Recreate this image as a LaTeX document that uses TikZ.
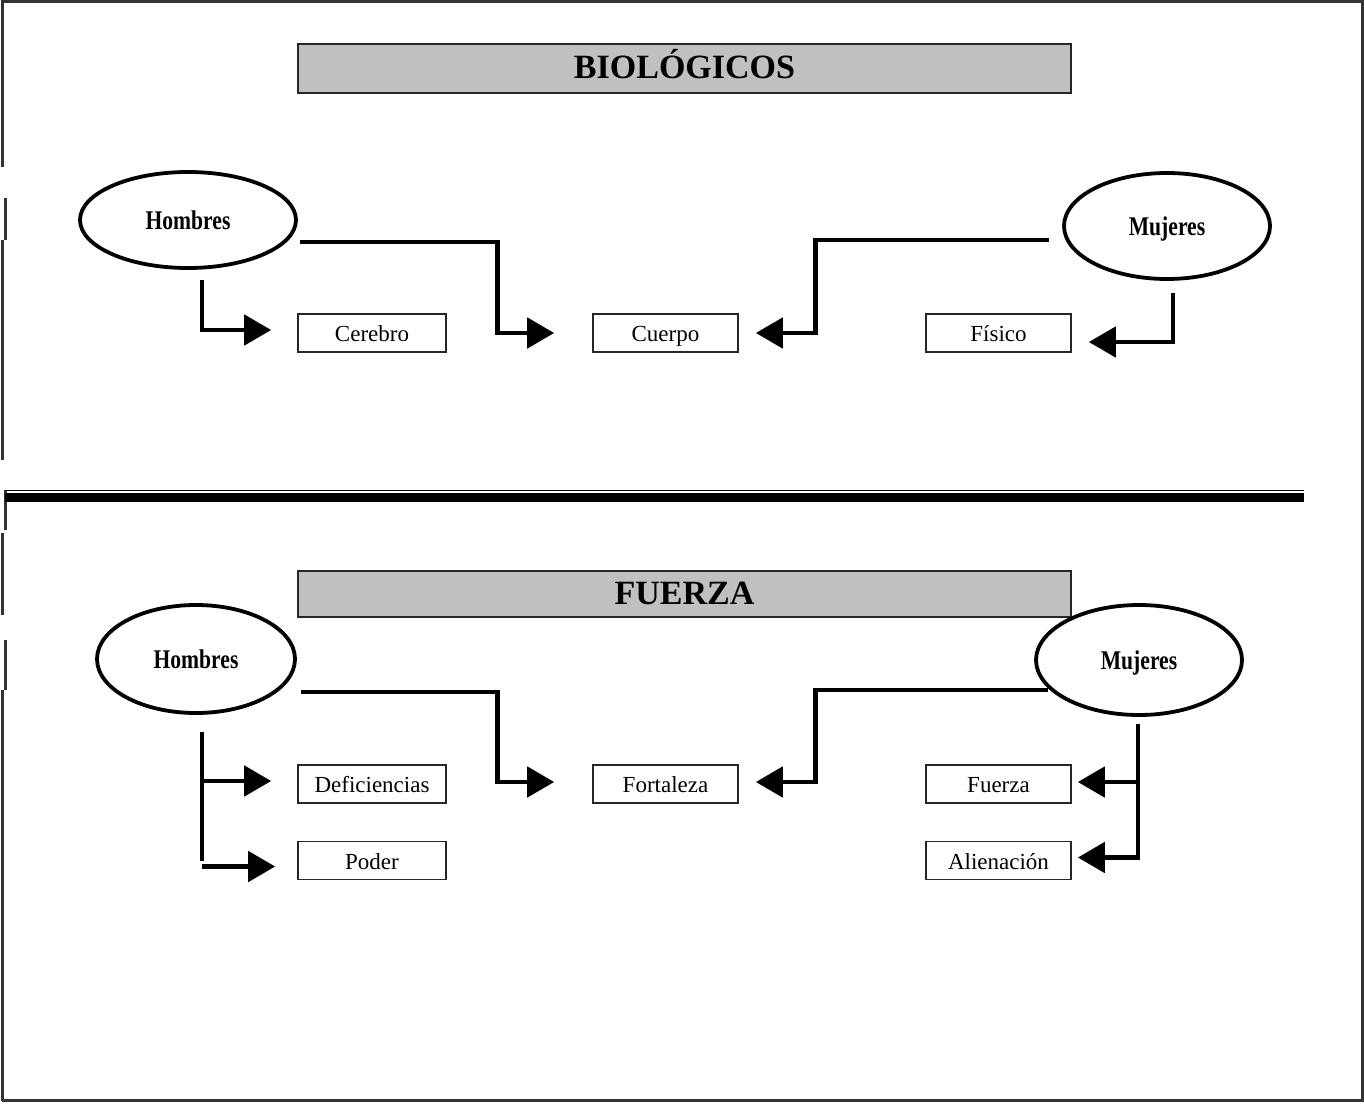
\documentclass[tikz,border=0pt]{standalone}
\usepackage{fontspec}
\setmainfont{Liberation Serif}
\usetikzlibrary{shapes.geometric,arrows.meta,calc}
\definecolor{bandgray}{RGB}{192,192,192}
\begin{document}
\begin{tikzpicture}[x=1pt,y=-1pt,
  titlebox/.style={draw=black!85,line width=1.6pt,fill=bandgray,inner sep=0pt,
    minimum width=773pt,text height=21pt,text depth=0pt,
    font=\fontsize{34}{34}\selectfont\bfseries},
  oval/.style={ellipse,draw,line width=3.8pt,inner sep=0pt,
    text height=18pt,text depth=0pt,
    font=\fontsize{27}{27}\selectfont\bfseries},
  itembox/.style={draw=black!85,line width=1.6pt,inner sep=0pt,
    minimum width=148pt,minimum height=38pt,text height=17pt,text depth=0pt,
    font=\fontsize{23}{23}\selectfont},
  link/.style={line width=4.8pt,line join=miter},
  conn/.style={link,-{Triangle[length=27pt,width=30pt]}},
  frameline/.style={line width=2.4pt,black!80}]
\useasboundingbox (0,0) rectangle (1364,1105);

% outer frame
\draw[frameline] (1.5,1.5) -- (1362.5,1.5) -- (1362.5,1100.5) -- (1.5,1100.5);
\draw[frameline] (2.5,0) -- (2.5,167);
\draw[frameline] (5.5,198) -- (5.5,240);
\draw[frameline] (2.5,240) -- (2.5,460);
\draw[frameline] (5.5,490) -- (5.5,530);
\draw[frameline] (2.5,533) -- (2.5,615);
\draw[frameline] (5.5,640) -- (5.5,690);
\draw[frameline] (2.5,690) -- (2.5,1101);

% section separator (thin + thick rule)
\draw[line width=1.4pt] (5,490.5) -- (1304,490.5);
\draw[line width=9pt] (5,497.5) -- (1304,497.5);

% ---------- upper section ----------
\node[titlebox,minimum height=49pt] (t1) at (684.5,68.5) {BIOLÓGICOS};

\node[oval,minimum width=216pt,minimum height=96pt] (h1) at (188,220) {\scalebox{0.8}[1]{Hombres}};
\node[oval,minimum width=206pt,minimum height=106pt] (m1) at (1167,226) {\scalebox{0.8}[1]{Mujeres}};

\node[itembox] (cerebro) at (372,333) {Cerebro};
\node[itembox,minimum width=145pt] (cuerpo) at (665.5,333) {Cuerpo};
\node[itembox,minimum width=145pt] (fisico) at (998.5,333) {Físico};

\draw[conn] ($(h1.south)+(14,10)$) |- ($(cerebro.west)+(-26,-3)$);
\draw[conn] ($(h1.east)+(2,22)$) -| ($(cuerpo.west)+(-95,0)$) -- ($(cuerpo.west)+(-38,0)$);
\draw[conn] ($(m1.west)+(-13,14)$) -| ($(cuerpo.east)+(77,0)$) -- ($(cuerpo.east)+(17,0)$);
\draw[conn] ($(m1.south)+(6,12)$) |- ($(fisico.east)+(17,9)$);

% ---------- lower section ----------
\node[titlebox,minimum height=46pt] (t2) at (684.5,594) {FUERZA};

\node[oval,minimum width=198pt,minimum height=108pt] (h2) at (196,659) {\scalebox{0.8}[1]{Hombres}};
\node[oval,minimum width=206pt,minimum height=110pt] (m2) at (1139,660) {\scalebox{0.8}[1]{Mujeres}};

\node[itembox] (defic) at (372,784) {Deficiencias};
\node[itembox,minimum width=145pt] (fort) at (665.5,784) {Fortaleza};
\node[itembox,minimum width=145pt] (fuerza) at (998.5,784) {Fuerza};
\node[itembox] (poder) at (372,860.5) {Poder};
\node[itembox,minimum width=145pt] (alien) at (998.5,860.5) {Alienación};

% Hombres branches
\coordinate (hb) at ($(h2.south)+(6,17)$);
\draw[link] (hb) -- (hb |- poder.west);
\draw[conn] ($(hb |- defic.west)+(0,-3)$) -- ($(defic.west)+(-26,-3)$);
\draw[conn] ($(hb |- poder.west)+(0,6)$) -- ($(poder.west)+(-22,6)$);
\draw[conn] ($(h2.east)+(4,33)$) -| ($(fort.west)+(-95,-2)$) -- ($(fort.west)+(-38,-2)$);

% Mujeres branches
\draw[conn] ($(m2.west)+(14,30)$) -| ($(fort.east)+(77,-2)$) -- ($(fort.east)+(17,-2)$);
\coordinate (mb) at ($(m2.south)+(-1,7)$);
\draw[link] (mb) -- ($(mb |- alien.east)+(0,-1)$);
\draw[conn] ($(mb |- fuerza.east)+(0,-2)$) -- ($(fuerza.east)+(6,-2)$);
\draw[conn] ($(mb |- alien.east)+(2,-3)$) -- ($(alien.east)+(6,-3)$);
\end{tikzpicture}
\end{document}
